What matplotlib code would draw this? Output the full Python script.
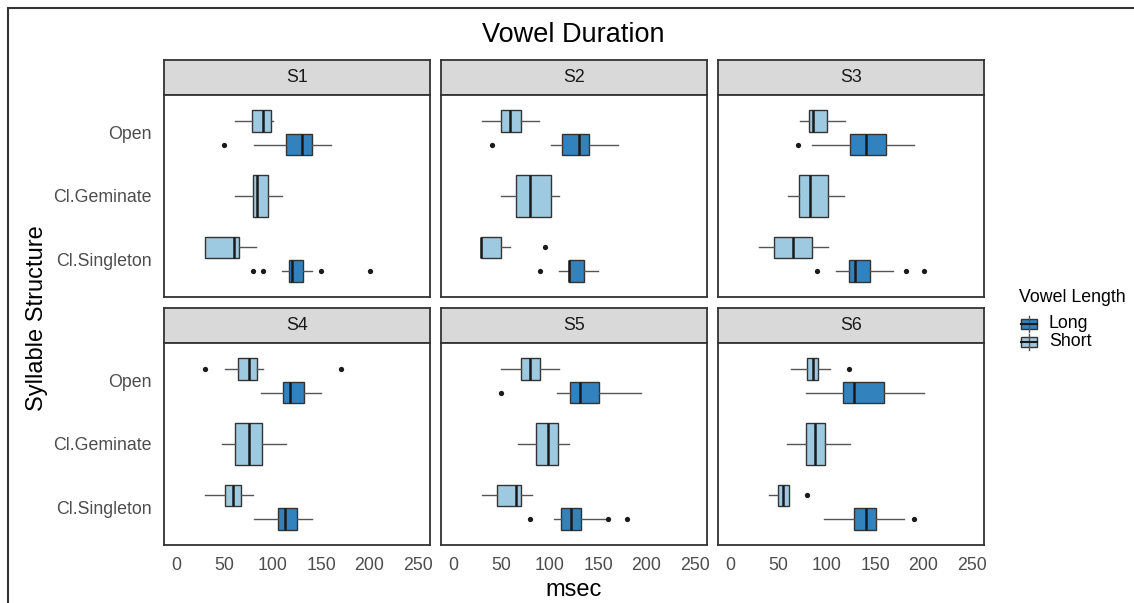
import numpy as np
import matplotlib.pyplot as plt
from matplotlib.patches import Rectangle
from matplotlib.lines import Line2D

plt.rcParams['font.family'] = ['Liberation Sans', 'DejaVu Sans']

# box stats: whislo, q1, median, q3, whishi (msec)
speakers = ['S1', 'S2', 'S3', 'S4', 'S5', 'S6']
structures = ['Cl.Singleton', 'Cl.Geminate', 'Open']

short_open = [[61, 78, 90, 98, 100],
              [30, 50, 59, 70, 89],
              [72, 82, 86, 100, 119],
              [51, 64, 75, 84, 90],
              [50, 70, 79, 90, 109],
              [63, 79, 86, 91, 103]]
short_open_out = [[], [], [], [30, 170], [], [123]]

long_open = [[81, 114, 130, 140, 160],
             [101, 113, 130, 140, 170],
             [85, 124, 140, 161, 190],
             [88, 111, 118, 132, 150],
             [107, 121, 131, 151, 194],
             [78, 117, 128, 159, 200]]
long_open_out = [[50], [40], [70], [], [50], []]

short_gem = [[61, 80, 84, 95, 110],
             [50, 65, 79, 101, 110],
             [60, 71, 83, 101, 118],
             [47, 61, 75, 89, 114],
             [67, 86, 98, 108, 120],
             [59, 78, 88, 98, 124]]
short_gem_out = [[], [], [], [], [], []]

short_sing = [[30, 30, 60, 65, 83],
              [29, 29, 29, 50, 59],
              [30, 45, 65, 85, 101],
              [30, 51, 59, 67, 80],
              [30, 45, 65, 70, 82],
              [40, 50, 55, 61, 61]]
short_sing_out = [[], [95], [], [], [], [80]]

long_sing = [[110, 117, 120, 131, 140],
             [110, 120, 120, 135, 150],
             [109, 123, 129, 145, 168],
             [81, 105, 113, 125, 140],
             [104, 112, 122, 132, 157],
             [97, 128, 140, 151, 180]]
long_sing_out = [[80, 90, 150, 200], [90], [90, 182, 200], [], [79, 160, 180], [190]]

xticks = [0, 50, 100, 150, 200, 250]

long_col = '#3182BD'
short_col = '#9ECAE1'
edge = '#333333'

W, H = 1134, 603
fig = plt.figure(figsize=(W / 100, H / 100), dpi=100)


def px(x0, y0, w, h):
    # pixel box with top-left origin -> figure fraction
    return [x0 / W, 1 - (y0 + h) / H, w / W, h / H]


def stat(v, out):
    return dict(whislo=v[0], q1=v[1], med=v[2], q3=v[3], whishi=v[4], fliers=out)


col_left = [164, 441, 718]
row_top = [60, 308]
panel_w = 266
strip_h = 35
panel_h = 202

for i, sp in enumerate(speakers):
    r, c = divmod(i, 3)
    x0 = col_left[c]
    y0 = row_top[r]

    # strip
    sax = fig.add_axes(px(x0, y0, panel_w, strip_h))
    sax.set_facecolor('#D9D9D9')
    sax.set_xticks([])
    sax.set_yticks([])
    for s in sax.spines.values():
        s.set_color(edge)
        s.set_linewidth(1.3)
    sax.text(0.5, 0.5, sp, ha='center', va='center', fontsize=12.8,
             color='#1A1A1A', transform=sax.transAxes)

    ax = fig.add_axes(px(x0, y0 + strip_h, panel_w, panel_h))
    stats = [stat(long_open[i], long_open_out[i]),
             stat(short_open[i], short_open_out[i]),
             stat(short_gem[i], short_gem_out[i]),
             stat(long_sing[i], long_sing_out[i]),
             stat(short_sing[i], short_sing_out[i])]
    pos = [3 - 0.1875, 3 + 0.1875, 2, 1 - 0.1875, 1 + 0.1875]
    widths = [0.3375, 0.3375, 0.675, 0.3375, 0.3375]
    cols = [long_col, short_col, short_col, long_col, short_col]
    bp = ax.bxp(stats, positions=pos, widths=widths, orientation='horizontal',
                showcaps=False, patch_artist=True, manage_ticks=False,
                boxprops=dict(edgecolor=edge, linewidth=1.0),
                medianprops=dict(color='#1A1A1A', linewidth=1.8),
                whiskerprops=dict(color='#555555', linewidth=1.0),
                flierprops=dict(marker='o', markersize=3.8,
                                markerfacecolor='#1A1A1A', markeredgecolor='none'))
    for patch, col in zip(bp['boxes'], cols):
        patch.set_facecolor(col)

    ax.set_xlim(-12.5, 262.5)
    ax.set_ylim(0.4, 3.6)
    ax.set_xticks(xticks)
    ax.set_yticks([1, 2, 3])
    ax.set_yticklabels(structures)
    ax.tick_params(length=0, pad=9, labelsize=12.8, labelcolor='#4D4D4D')
    if r == 0:
        ax.tick_params(labelbottom=False)
    if c != 0:
        ax.tick_params(labelleft=False)
    for s in ax.spines.values():
        s.set_color(edge)
        s.set_linewidth(1.3)

# titles
fig.text(573.5 / W, 1 - 35 / H, 'Vowel Duration', ha='center', va='center', fontsize=19.5)
fig.text(573.5 / W, 1 - 590 / H, 'msec', ha='center', va='center', fontsize=17)
fig.text(37 / W, 1 - 318 / H, 'Syllable Structure', ha='center', va='center',
         rotation=90, fontsize=17)

# legend
fig.text(1019 / W, 1 - 297 / H, 'Vowel Length', ha='left', va='center', fontsize=12.8)
for lab, col, yc in [('Long', long_col, 324), ('Short', short_col, 342)]:
    fig.add_artist(Line2D([1029 / W, 1029 / W], [1 - (yc - 8) / H, 1 - (yc + 8) / H],
                          color='#555555', lw=1.0, transform=fig.transFigure))
    fig.add_artist(Rectangle((1021 / W, 1 - (yc + 5) / H), 16 / W, 10 / H,
                             facecolor=col, edgecolor=edge, lw=1.0,
                             transform=fig.transFigure))
    fig.add_artist(Line2D([1021 / W, 1037 / W], [1 - yc / H, 1 - yc / H],
                          color='#1A1A1A', lw=1.5, transform=fig.transFigure))
    fig.text(1049 / W, 1 - yc / H, lab, ha='left', va='center', fontsize=12.8)

# outer border
fig.add_artist(Rectangle((8 / W, -0.05), 1.1, 1.05 - 8 / H, fill=False,
                         edgecolor='#333333', lw=1.5, transform=fig.transFigure))

fig.savefig('out.png', dpi=100)
